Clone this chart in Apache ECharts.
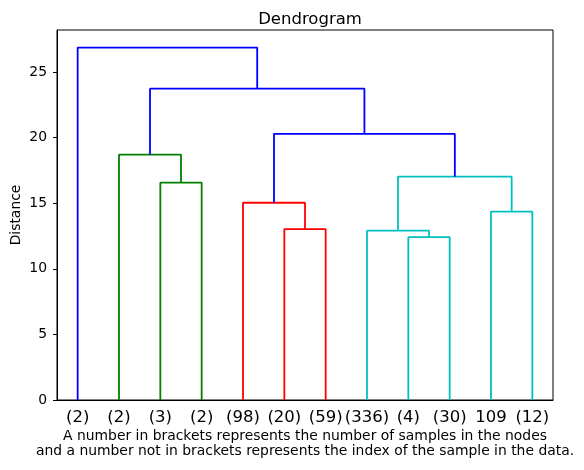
<!DOCTYPE html>
<html>
<head>
<meta charset="utf-8">
<script src="https://cdn.jsdelivr.net/npm/echarts@6/dist/echarts.min.js"></script>
<style>
  html, body { margin: 0; padding: 0; background: #fff; }
  #chart { width: 584px; height: 470px; }
</style>
</head>
<body>
<div id="chart"></div>
<script>
// leaves in the order the dendrogram draws them
const leafLabels = ['(2)', '(2)', '(3)', '(2)', '(98)', '(20)', '(59)', '(336)', '(4)', '(30)', '109', '(12)'];

// merges: ids below 12 are leaves, 12+ are earlier merges (in this order)
const mergeLeft = [8, 7, 5, 10, 4, 2, 13, 1, 16, 19, 0];
const mergeRight = [9, 12, 6, 11, 14, 3, 15, 17, 18, 20, 21];
const mergeHeight = [12.41, 12.90, 13.02, 14.35, 15.03, 16.56, 17.02, 18.70, 20.28, 23.72, 26.85];
const mergeColor = ['c', 'c', 'r', 'c', 'r', 'g', 'c', 'g', 'b', 'b', 'b'];

const yTicks = [0, 5, 10, 15, 20, 25];

const palette = { b: '#0000ff', g: '#008000', r: '#ff0000', c: '#00bfbf' };
const font = 'DejaVu Sans';

const n = leafLabels.length;
const leafX = leafLabels.map((_, i) => 5 + 10 * i);
const nodeX = leafX.slice();
const nodeY = leafX.map(() => 0);

const series = mergeLeft.map((a, k) => {
    const b = mergeRight[k];
    const h = mergeHeight[k];
    nodeX[n + k] = (nodeX[a] + nodeX[b]) / 2;
    nodeY[n + k] = h;
    return {
        type: 'line',
        data: [[nodeX[a], nodeY[a]], [nodeX[a], h], [nodeX[b], h], [nodeX[b], nodeY[b]]],
        showSymbol: false,
        silent: true,
        lineStyle: { color: palette[mergeColor[k]], width: 1.8 },
        z: 3
    };
});

const yMax = Math.max(...mergeHeight) * 1.05;

const chart = echarts.init(document.getElementById('chart'));
chart.setOption({
    animation: false,
    backgroundColor: '#fff',
    title: {
        text: 'Dendrogram',
        left: 305,
        textAlign: 'center',
        top: 6,
        textStyle: { fontFamily: font, fontSize: 16.5, fontWeight: 'normal', color: '#000' }
    },
    grid: {
        left: 57, right: 31, top: 30, bottom: 70,
        outerBoundsMode: 'none',
        containLabel: false,
        show: true, borderColor: '#000', borderWidth: 1
    },
    xAxis: {
        type: 'value',
        min: 0,
        max: 10 * n,
        splitLine: { show: false },
        axisTick: { show: false },
        axisLine: { show: true, lineStyle: { color: '#000', width: 1 } },
        axisLabel: {
            customValues: leafX,
            formatter: (v) => leafLabels[(v - 5) / 10],
            fontFamily: font,
            fontSize: 16.5,
            color: '#000',
            margin: 9
        },
        name: 'A number in brackets represents the number of samples in the nodes\nand a number not in brackets represents the index of the sample in the data.',
        nameLocation: 'middle',
        nameGap: 29,
        nameMoveOverlap: false,
        nameTextStyle: { fontFamily: font, fontSize: 13.9, color: '#000', lineHeight: 15 }
    },
    yAxis: {
        type: 'value',
        min: 0,
        max: yMax,
        splitLine: { show: false },
        axisLine: { show: true, lineStyle: { color: '#000', width: 1 } },
        axisTick: { show: true, customValues: yTicks, length: 4, lineStyle: { color: '#000' } },
        axisLabel: {
            customValues: yTicks,
            fontFamily: font,
            fontSize: 13.9,
            color: '#000',
            margin: 10
        },
        name: 'Distance',
        nameLocation: 'middle',
        nameGap: 34,
        nameMoveOverlap: false,
        nameTextStyle: { fontFamily: font, fontSize: 13.9, color: '#000' }
    },
    series: series
});
</script>
</body>
</html>
